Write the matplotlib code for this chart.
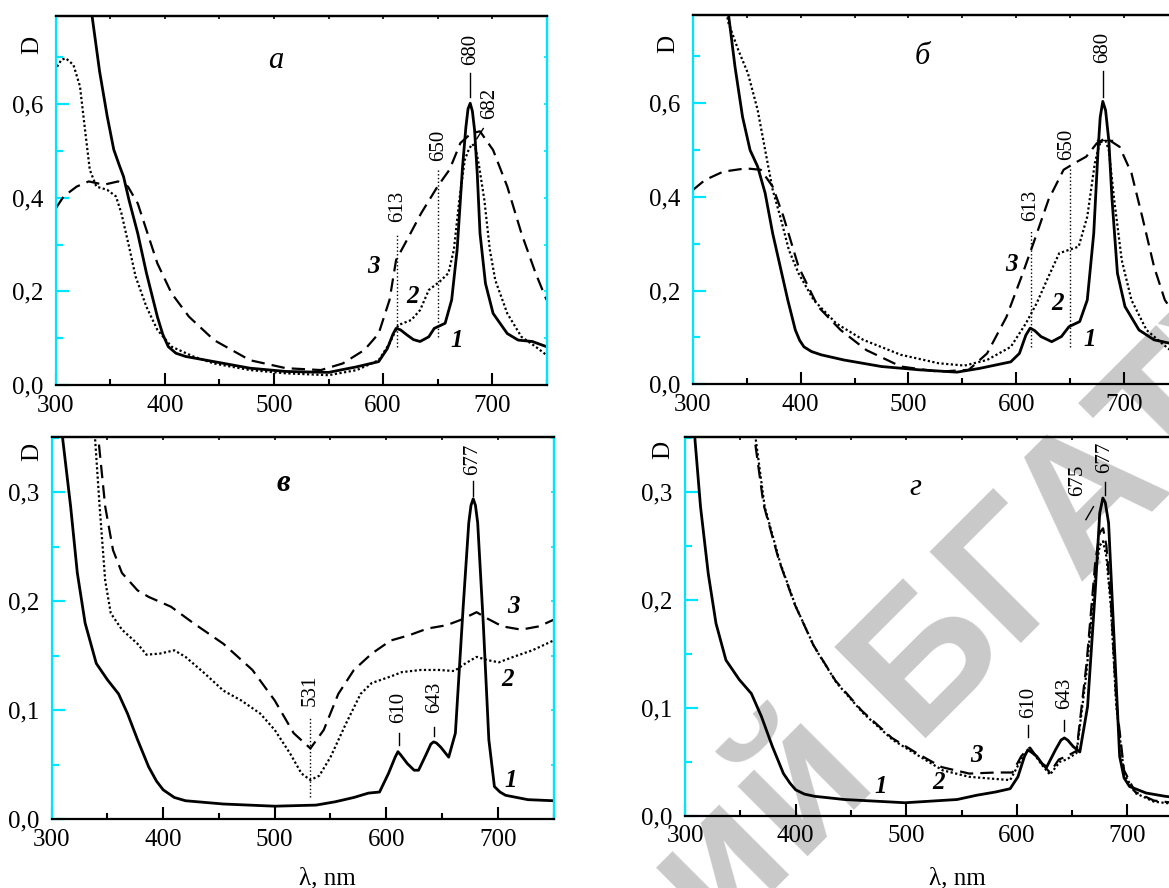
import numpy as np
import matplotlib
matplotlib.use("Agg")
import matplotlib.pyplot as plt
from matplotlib.ticker import MultipleLocator, FixedLocator, FixedFormatter
import matplotlib.transforms as mtransforms

plt.rcParams['font.family'] = ['Liberation Serif', 'DejaVu Serif']

# --- panel a ---
a_wl1 = [326, 333, 340, 347, 353, 358, 362, 367, 375, 383, 393, 398, 403, 410, 419, 445, 478, 511, 550,
         576, 596, 604, 609, 612, 616, 622, 628, 634, 642, 647, 657, 663, 668, 673, 676, 678, 680, 682,
         684, 686.5, 689, 694, 701, 714, 724, 737, 750]
a_d1 = [0.92, 0.79, 0.67, 0.574, 0.503, 0.470, 0.445, 0.395, 0.324, 0.239, 0.146, 0.108, 0.082, 0.068,
        0.061, 0.050, 0.036, 0.029, 0.027, 0.039, 0.050, 0.078, 0.108, 0.121, 0.118, 0.107, 0.097, 0.093,
        0.103, 0.121, 0.132, 0.182, 0.289, 0.467, 0.550, 0.590, 0.602, 0.585, 0.545, 0.450, 0.324, 0.217,
        0.153, 0.110, 0.096, 0.093, 0.082]
a_wl2 = [301, 305, 309, 316, 322, 327, 331, 337, 347, 355, 360, 367, 373, 383, 393, 406, 426, 445, 478,
         511, 550, 576, 596, 606, 614, 626, 634, 642, 652, 660, 665, 670, 675, 679, 682, 685, 688, 693,
         698, 703, 714, 727, 740, 750]
a_d2 = [0.680, 0.695, 0.698, 0.684, 0.638, 0.538, 0.460, 0.424, 0.417, 0.403, 0.367, 0.296, 0.232, 0.167,
        0.118, 0.082, 0.061, 0.046, 0.032, 0.025, 0.021, 0.032, 0.053, 0.089, 0.128, 0.139, 0.160, 0.203,
        0.221, 0.239, 0.289, 0.395, 0.481, 0.505, 0.515, 0.505, 0.470, 0.395, 0.289, 0.224, 0.153, 0.103,
        0.082, 0.064]
a_wl3 = [300, 307, 319, 330, 344, 357, 366, 375, 383, 393, 406, 422, 445, 478, 511, 543, 563, 583, 596,
         606, 612, 622, 635, 650, 661, 671, 681, 689, 701, 714, 727, 740, 750]
a_d3 = [0.378, 0.403, 0.424, 0.435, 0.428, 0.435, 0.424, 0.388, 0.331, 0.260, 0.196, 0.146, 0.096, 0.053,
        0.036, 0.032, 0.046, 0.075, 0.110, 0.182, 0.267, 0.310, 0.367, 0.424, 0.460, 0.517, 0.538, 0.542,
        0.502, 0.424, 0.324, 0.239, 0.182]

# --- panel b ---
b_wl1 = [326, 333, 339, 346, 353, 360, 367, 374, 381, 388, 395, 399, 403, 410, 419, 440, 475, 510, 545,
         566, 595, 603, 609, 613, 617, 623, 633, 642, 649, 659, 666, 672, 676, 678, 680.4, 683, 686, 689,
         694, 701, 714, 728, 742, 750]
b_d1 = [0.90, 0.789, 0.678, 0.571, 0.500, 0.465, 0.408, 0.322, 0.251, 0.180, 0.116, 0.094, 0.080, 0.070,
        0.063, 0.052, 0.038, 0.031, 0.026, 0.034, 0.048, 0.066, 0.105, 0.120, 0.115, 0.102, 0.091, 0.102,
        0.123, 0.134, 0.180, 0.322, 0.500, 0.570, 0.604, 0.585, 0.520, 0.394, 0.237, 0.166, 0.116, 0.095,
        0.088, 0.078]
b_wl2 = [328, 333, 342, 351, 360, 367, 374, 381, 389, 398, 412, 433, 458, 493, 528, 552, 573, 595, 609,
         619, 630, 640, 649, 658, 666, 673, 677, 680, 683, 686, 691, 698, 707, 721, 735, 750]
b_d2 = [0.83, 0.771, 0.714, 0.664, 0.586, 0.500, 0.415, 0.358, 0.287, 0.237, 0.180, 0.130, 0.095, 0.063,
        0.045, 0.040, 0.052, 0.080, 0.130, 0.173, 0.230, 0.280, 0.287, 0.294, 0.358, 0.472, 0.510, 0.522,
        0.520, 0.500, 0.394, 0.265, 0.180, 0.116, 0.088, 0.060]
b_wl3 = [300, 311, 328, 349, 363, 374, 384, 398, 416, 437, 461, 493, 528, 556, 573, 591, 605, 616, 630,
         644, 654, 665, 675, 686, 696, 707, 717, 728, 738, 750]
b_d3 = [0.415, 0.436, 0.454, 0.461, 0.458, 0.422, 0.358, 0.251, 0.166, 0.116, 0.073, 0.038, 0.027, 0.031,
        0.066, 0.144, 0.230, 0.301, 0.394, 0.458, 0.472, 0.486, 0.515, 0.522, 0.507, 0.451, 0.358, 0.251,
        0.180, 0.140]

# --- panel c ---
c_wl1 = [306, 310, 317, 323, 330, 340, 350, 360, 368, 377, 387, 394, 400, 410, 420, 454, 500, 537, 554,
         571, 584, 594, 602, 608, 610.5, 613, 619, 625, 629, 636, 640, 642.5, 645, 649, 656, 662, 669, 674,
         676, 678, 680, 682, 687, 692, 697, 702, 707, 727, 750]
c_d1 = [0.40, 0.348, 0.287, 0.226, 0.180, 0.143, 0.128, 0.115, 0.097, 0.073, 0.048, 0.035, 0.027, 0.020,
        0.017, 0.014, 0.012, 0.013, 0.016, 0.020, 0.024, 0.025, 0.042, 0.057, 0.062, 0.059, 0.051, 0.045,
        0.045, 0.060, 0.069, 0.071, 0.070, 0.066, 0.057, 0.079, 0.195, 0.272, 0.288, 0.294, 0.288, 0.272,
        0.180, 0.073, 0.030, 0.025, 0.022, 0.018, 0.017]
c_wl2 = [337, 339, 343, 348, 353, 363, 377, 385, 397, 410, 420, 437, 454, 470, 487, 500, 514, 524, 532,
         540, 550, 564, 577, 587, 604, 614, 631, 647, 661, 671, 681, 691, 701, 714, 731, 750]
c_d2 = [0.40, 0.348, 0.287, 0.219, 0.189, 0.174, 0.161, 0.151, 0.152, 0.155, 0.149, 0.134, 0.118, 0.109,
        0.097, 0.082, 0.060, 0.042, 0.036, 0.040, 0.057, 0.088, 0.115, 0.125, 0.131, 0.135, 0.137, 0.137,
        0.136, 0.143, 0.149, 0.146, 0.144, 0.149, 0.155, 0.164]
c_wl3 = [340, 342, 348, 355, 363, 377, 387, 407, 427, 454, 480, 500, 517, 532, 544, 557, 571, 587, 604,
         621, 637, 654, 667, 681, 691, 704, 721, 737, 750]
c_d3 = [0.40, 0.348, 0.287, 0.247, 0.226, 0.210, 0.204, 0.195, 0.180, 0.161, 0.137, 0.109, 0.079, 0.065,
        0.082, 0.115, 0.137, 0.152, 0.164, 0.169, 0.175, 0.178, 0.183, 0.190, 0.184, 0.177, 0.174, 0.177,
        0.183]

# --- panel d ---
d_wl1 = [306, 309, 314, 321, 328, 337, 349, 360, 369, 379, 389, 395, 400, 408, 417, 444, 499, 546, 564,
         581, 594, 601, 607, 610, 613, 618, 623, 627, 635, 640, 643, 646, 651, 657, 664, 671, 675, 677.8,
         680, 683, 688, 693, 697, 702, 717, 734, 750]
d_d1 = [0.40, 0.348, 0.286, 0.224, 0.178, 0.144, 0.126, 0.113, 0.092, 0.064, 0.039, 0.030, 0.024, 0.020,
        0.018, 0.015, 0.012, 0.015, 0.019, 0.022, 0.025, 0.036, 0.055, 0.061, 0.059, 0.055, 0.048, 0.045,
        0.061, 0.070, 0.072, 0.070, 0.064, 0.059, 0.101, 0.209, 0.280, 0.294, 0.290, 0.271, 0.163, 0.055,
        0.035, 0.027, 0.021, 0.018, 0.016]
d_wl2 = [362, 364, 372, 386, 400, 417, 437, 461, 488, 512, 533, 557, 581, 594, 604, 610, 613, 622, 630,
         639, 645, 654, 663, 671, 675, 678, 681, 685, 690, 697, 707, 724, 750]
d_d2 = [0.40, 0.348, 0.286, 0.234, 0.194, 0.156, 0.123, 0.095, 0.070, 0.055, 0.042, 0.036, 0.034, 0.033,
        0.052, 0.060, 0.061, 0.048, 0.038, 0.050, 0.052, 0.058, 0.132, 0.224, 0.250, 0.254, 0.240, 0.194,
        0.101, 0.039, 0.021, 0.013, 0.010]
d_wl3 = [361, 363, 371, 385, 399, 416, 436, 460, 487, 511, 532, 557, 581, 596, 604, 610, 612, 621, 630,
         638, 645, 654, 663, 671, 675, 678, 681, 685, 690, 697, 707, 724, 750]
d_d3 = [0.40, 0.348, 0.288, 0.236, 0.196, 0.158, 0.125, 0.097, 0.072, 0.057, 0.045, 0.039, 0.040, 0.040,
        0.055, 0.062, 0.063, 0.050, 0.040, 0.052, 0.055, 0.060, 0.140, 0.235, 0.262, 0.266, 0.250, 0.200,
        0.105, 0.042, 0.022, 0.014, 0.011]

x_ticks = [300, 400, 500, 600, 700]
x_ticklabels = ['300', '400', '500', '600', '700']
top_yticks = [0.0, 0.2, 0.4, 0.6]
top_yticklabels = ['0,0', '0,2', '0,4', '0,6']
bot_yticks = [0.0, 0.1, 0.2, 0.3]
bot_yticklabels = ['0,0', '0,1', '0,2', '0,3']

CYAN = '#00e5ff'
solid = dict(color='black', lw=2.0, ls='-', solid_joinstyle='round')
dotted = dict(color='black', lw=1.6, ls=(0, (1, 1.1)))
dashed = dict(color='black', lw=1.6, ls=(0, (6, 3.2)))

fig = plt.figure(figsize=(11.69, 8.88), dpi=100)


def style_axes(ax, ylim, yticks, yticklabels, yminor):
    ax.set_facecolor('none')
    ax.set_xlim(300, 750)
    ax.set_ylim(*ylim)
    ax.xaxis.set_major_locator(FixedLocator(x_ticks))
    ax.xaxis.set_major_formatter(FixedFormatter(x_ticklabels))
    ax.xaxis.set_minor_locator(MultipleLocator(50))
    ax.yaxis.set_major_locator(FixedLocator(yticks))
    ax.yaxis.set_major_formatter(FixedFormatter(yticklabels))
    ax.yaxis.set_minor_locator(MultipleLocator(yminor))
    for side in ['left', 'right']:
        ax.spines[side].set_color(CYAN)
        ax.spines[side].set_linewidth(1.6)
    for side in ['top', 'bottom']:
        ax.spines[side].set_color('black')
        ax.spines[side].set_linewidth(1.6)
    ax.tick_params(axis='x', which='major', direction='in', length=9, width=1.5,
                   labelsize=18, pad=7, top=False)
    ax.tick_params(axis='x', which='minor', direction='in', length=4.5, width=1.5, top=False)
    ax.tick_params(axis='y', which='major', direction='in', length=9.5, width=1.6,
                   color=CYAN, labelsize=18, pad=9, right=False)
    ax.tick_params(axis='y', which='minor', direction='in', length=5, width=1.6,
                   color=CYAN, right=False)
    # small ticks on the top and right frame
    sx = ax.secondary_xaxis('top')
    sx.set_xticks(np.arange(300, 751, 50))
    sx.tick_params(direction='in', length=2.5, width=1.2, labeltop=False)
    sx.spines['top'].set_linewidth(1.6)
    sy = ax.secondary_yaxis('right')
    sy.set_yticks(np.arange(0, ylim[1], yminor))
    sy.tick_params(direction='in', length=2.5, width=1.2, color=CYAN, labelright=False)
    sy.spines['right'].set_color(CYAN)
    sy.spines['right'].set_linewidth(1.6)


def mark(ax, x, y0, y1, ls='-', lw=1.0):
    ax.plot([x, x], [y0, y1], color='black', lw=lw, ls=ls)


def num(ax, x, y, s):
    ax.text(x, y, s, fontsize=15, rotation=90, ha='center', va='center')


def curve_label(ax, x, y, s):
    ax.text(x, y, s, fontsize=18, fontweight='bold', fontstyle='italic', ha='center', va='center')


# watermark behind everything
fig.text(0.614, -0.0665, 'ий БГАТУ', fontsize=135, fontweight='bold', color='#c9c9c9',
         family='Liberation Sans', rotation=45, rotation_mode='anchor',
         ha='left', va='baseline', zorder=-5)

# a
ax = fig.add_axes([0.0479, 0.5664, 0.4196, 0.4159])
style_axes(ax, (0, 0.789), top_yticks, top_yticklabels, 0.1)
ax.plot(a_wl1, a_d1, **solid)
ax.plot(a_wl2, a_d2, **dotted)
ax.plot(a_wl3, a_d3, **dashed)
mark(ax, 613, 0.082, 0.324, ls=':')
mark(ax, 650.7, 0.103, 0.463, ls=':')
num(ax, 613, 0.381, '613')
num(ax, 651, 0.513, '650')
num(ax, 680, 0.716, '680')
mark(ax, 680, 0.616, 0.666)
num(ax, 697.6, 0.602, '682')
ax.plot([686, 692], [0.526, 0.548], color='black', lw=1.0)
curve_label(ax, 591, 0.253, '3')
curve_label(ax, 627, 0.189, '2')
curve_label(ax, 668, 0.096, '1')
ax.text(502, 0.693, 'a', fontsize=22, fontstyle='italic', ha='center', va='center')
ax.text(-0.049, 0.921, 'D', transform=ax.transAxes, fontsize=18, rotation=90,
        ha='center', va='center')

# b
ax = fig.add_axes([0.5928, 0.5672, 0.4147, 0.4162])
style_axes(ax, (0, 0.789), top_yticks, top_yticklabels, 0.1)
ax.plot(b_wl1, b_d1, **solid)
ax.plot(b_wl2, b_d2, **dotted)
ax.plot(b_wl3, b_d3, **dashed)
mark(ax, 613.8, 0.08, 0.33, ls=':')
mark(ax, 650.3, 0.08, 0.465, ls=':')
num(ax, 613.8, 0.381, '613')
num(ax, 647, 0.513, '650')
num(ax, 680.4, 0.72, '680')
mark(ax, 680.4, 0.614, 0.668)
ax.plot([675, 689], [0.522, 0.522], color='black', lw=1.0)
curve_label(ax, 596, 0.255, '3')
curve_label(ax, 638, 0.173, '2')
curve_label(ax, 668, 0.095, '1')
ax.text(513, 0.70, 'б', fontsize=22, fontstyle='italic', ha='center', va='center')
ax.text(-0.052, 0.92, 'D', transform=ax.transAxes, fontsize=18, rotation=90,
        ha='center', va='center')

# c
ax = fig.add_axes([0.0442, 0.0774, 0.4293, 0.4302])
style_axes(ax, (0, 0.3505), bot_yticks, bot_yticklabels, 0.05)
ax.plot(c_wl1, c_d1, **solid)
ax.plot(c_wl2, c_d2, **dotted)
ax.plot(c_wl3, c_d3, **dashed)
mark(ax, 532, 0.020, 0.095, ls=':')
num(ax, 532, 0.118, '531')
num(ax, 611.5, 0.103, '610')
mark(ax, 611.5, 0.068, 0.079)
num(ax, 643, 0.112, '643')
mark(ax, 643, 0.076, 0.085)
num(ax, 677.4, 0.330, '677')
mark(ax, 677.4, 0.297, 0.310)
curve_label(ax, 714, 0.195, '3')
curve_label(ax, 709, 0.128, '2')
curve_label(ax, 712, 0.036, '1')
ax.text(507.6, 0.308, 'в', fontsize=22, fontstyle='italic', fontweight='bold',
        ha='center', va='center')
ax.text(-0.039, 0.962, 'D', transform=ax.transAxes, fontsize=18, rotation=90,
        ha='center', va='center')
ax.text(547, -0.154, 'λ, nm', transform=mtransforms.blended_transform_factory(ax.transData, ax.transAxes),
        fontsize=18, ha='center', va='center')

# d
ax = fig.add_axes([0.586, 0.0814, 0.4257, 0.4265])
style_axes(ax, (0, 0.3505), bot_yticks, bot_yticklabels, 0.05)
ax.plot(d_wl1, d_d1, **solid)
ax.plot(d_wl2, d_d2, **dotted)
ax.plot(d_wl3, d_d3, **dashed)
num(ax, 611, 0.105, '610')
mark(ax, 610.5, 0.073, 0.084)
num(ax, 643, 0.113, '643')
mark(ax, 643, 0.078, 0.089)
num(ax, 655, 0.31, '675')
ax.plot([662.5, 669.3], [0.274, 0.286], color='black', lw=1.0)
num(ax, 679.5, 0.332, '677')
mark(ax, 679.5, 0.297, 0.309)
curve_label(ax, 563.5, 0.056, '3')
curve_label(ax, 529.4, 0.031, '2')
curve_label(ax, 476.5, 0.027, '1')
ax.text(508, 0.304, 'г', fontsize=22, fontstyle='italic', ha='center', va='center')
ax.text(-0.044, 0.966, 'D', transform=ax.transAxes, fontsize=18, rotation=90,
        ha='center', va='center')
ax.text(546, -0.165, 'λ, nm', transform=mtransforms.blended_transform_factory(ax.transData, ax.transAxes),
        fontsize=18, ha='center', va='center')

fig.savefig('out.png', dpi=100)
